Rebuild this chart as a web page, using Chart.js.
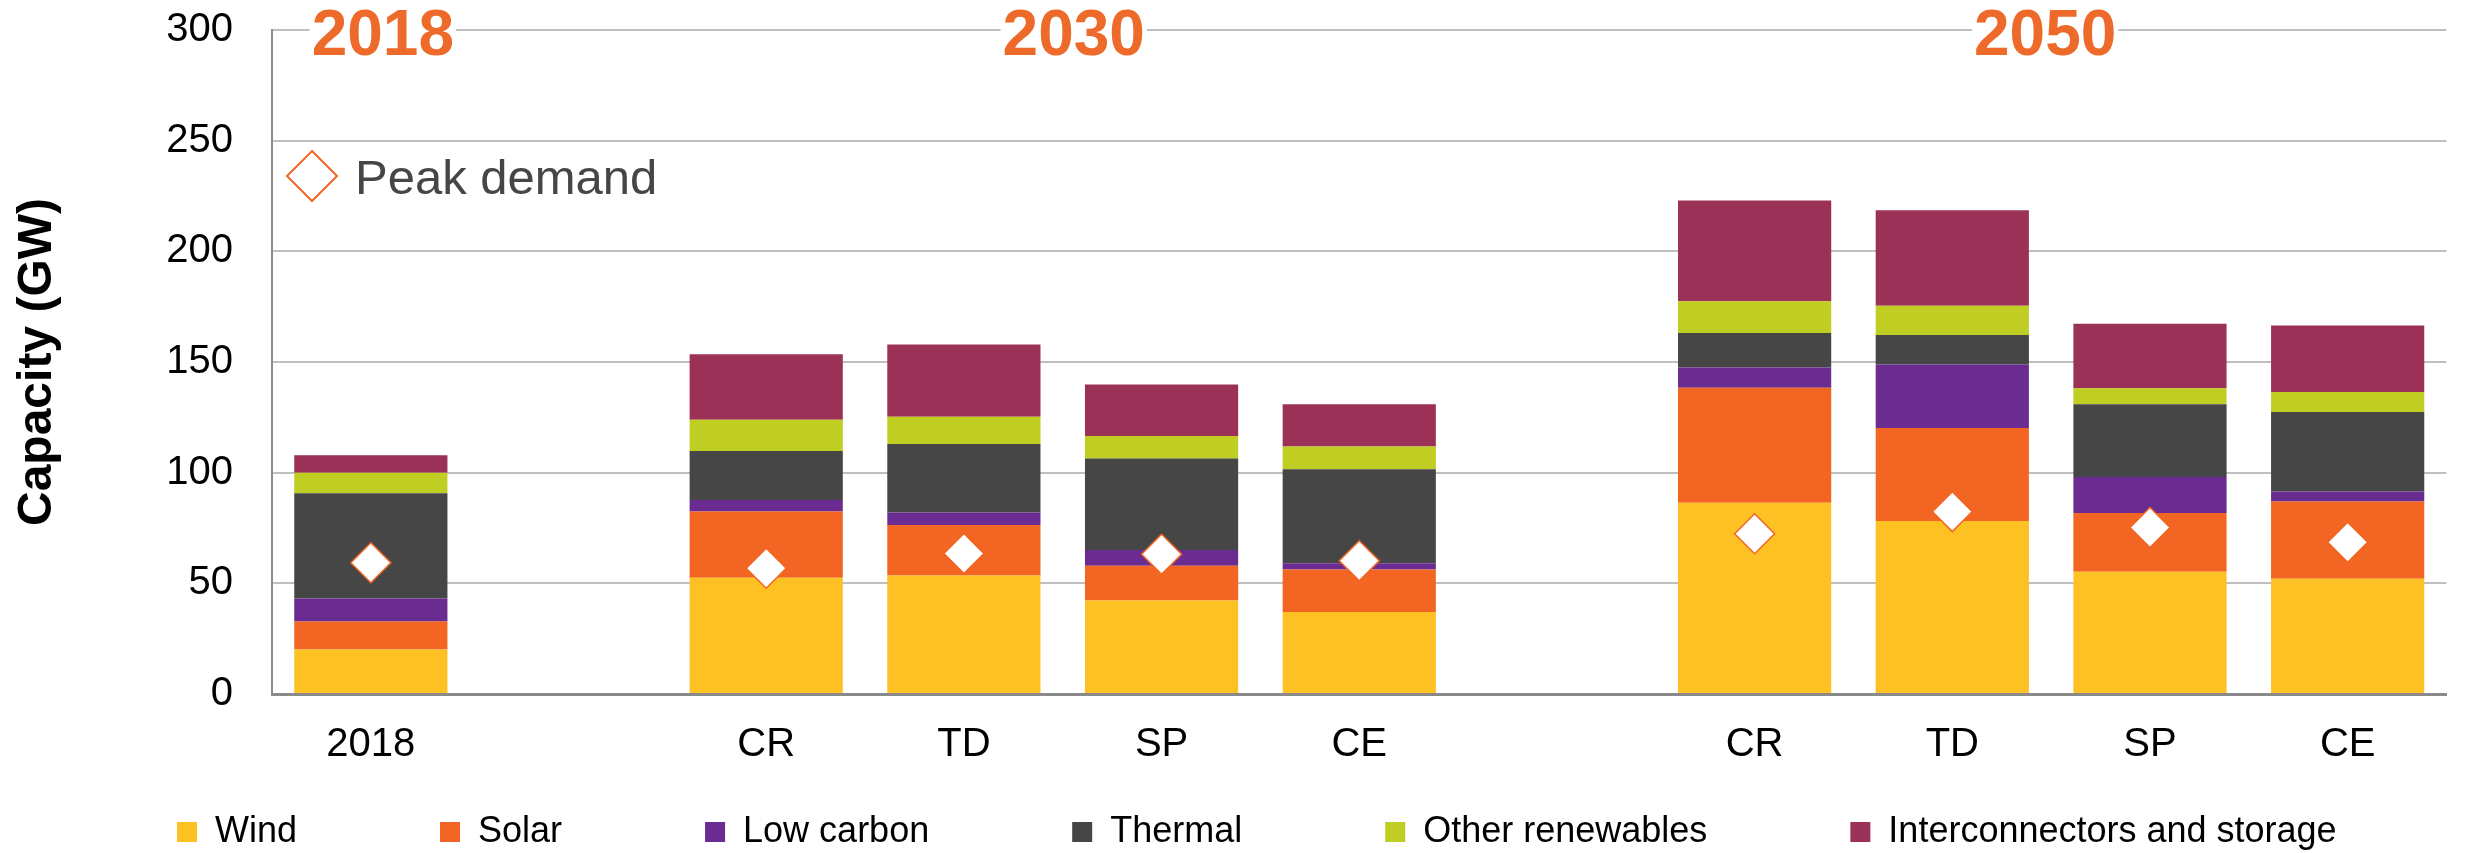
<!DOCTYPE html>
<html>
<head>
<meta charset="utf-8">
<script src="https://cdn.jsdelivr.net/npm/chart.js@4/dist/chart.umd.min.js"></script>
<style>
  html, body { margin: 0; padding: 0; background: #ffffff; }
  #wrap { width: 2468px; height: 853px; position: relative; }
</style>
</head>
<body>
<div id="wrap"><canvas id="c" width="2468" height="853"></canvas></div>
<script>
// ---- Data ----
const categories = ['2018', '', 'CR', 'TD', 'SP', 'CE', '', 'CR', 'TD', 'SP', 'CE'];
const wind       = [20.1, null, 52.5, 53.5, 42.3, 37.1, null, 86.4, 78.2, 55.2, 52.1];
const solar      = [12.7, null, 29.9, 22.8, 15.6, 19.1, null, 52.0, 42.0, 26.6, 34.9];
const lowCarbon  = [10.4, null,  5.2,  5.7,  7.2,  2.9, null,  9.1, 28.7, 16.2,  4.5];
const thermal    = [47.5, null, 22.2, 30.9, 41.3, 42.4, null, 15.6, 13.3, 32.9, 35.9];
const otherRen   = [ 9.3, null, 14.1, 12.4, 10.2, 10.3, null, 14.4, 13.2,  7.2,  9.1];
const interconn  = [ 7.9, null, 29.6, 32.6, 23.2, 19.1, null, 45.5, 43.2, 29.2, 30.0];
const peakDemand = [59.3, null, 56.8, 63.5, 63.1, 60.2, null, 72.4, 82.4, 75.2, 68.6];
const yTicks     = [0, 50, 100, 150, 200, 250, 300];
const groupTitles = ['2018', '2030', '2050'];

const FONT = "'Liberation Sans', Arial, Helvetica, sans-serif";
const ORANGE_TITLE = '#EE6A2A';
const DIAMOND_EDGE = '#F26522';

// Annotation plugin: group years, peak demand key, legend placement
const annotations = {
  id: 'annotations',
  afterLayout(chart) {
    const lg = chart.legend;
    if (!lg) return;
    const p = lg.options.labels.padding;
    lg.left = 177 - p;
    lg.right = chart.width + 600;
    lg.top = 814 - p;
    lg.bottom = chart.height;
  },
  afterDraw(chart) {
    const {ctx, chartArea, scales: {x, y}} = chart;
    ctx.save();
    // Group titles
    const groups = [
      (x.getPixelForValue(0)) + 12,
      (x.getPixelForValue(2) + x.getPixelForValue(5)) / 2 + 11,
      (x.getPixelForValue(7) + x.getPixelForValue(10)) / 2 - 6
    ];
    ctx.font = 'bold 64px ' + FONT;
    ctx.textAlign = 'center';
    ctx.textBaseline = 'alphabetic';
    const topY = y.getPixelForValue(300);
    groupTitles.forEach((t, i) => {
      const w = ctx.measureText(t).width;
      ctx.fillStyle = '#ffffff';
      ctx.fillRect(groups[i] - w / 2 - 2, topY - 6, w + 4, 12);
      ctx.fillStyle = ORANGE_TITLE;
      ctx.fillText(t, groups[i], topY + 25);
    });
    // Peak demand key
    const kx = chartArea.left + 40;
    const ky = y.getPixelForValue(234);
    const r = 25;
    ctx.beginPath();
    ctx.moveTo(kx, ky - r);
    ctx.lineTo(kx + r, ky);
    ctx.lineTo(kx, ky + r);
    ctx.lineTo(kx - r, ky);
    ctx.closePath();
    ctx.fillStyle = '#ffffff';
    ctx.fill();
    ctx.lineWidth = 2;
    ctx.strokeStyle = DIAMOND_EDGE;
    ctx.stroke();
    ctx.font = '49px ' + FONT;
    ctx.textAlign = 'left';
    ctx.fillStyle = '#464646';
    ctx.fillText('Peak demand', kx + 43, ky + 18);
    ctx.restore();
  }
};

function barSet(label, data, color) {
  return {
    type: 'bar',
    label: label,
    data: data,
    backgroundColor: color,
    borderWidth: 0,
    stack: 'cap',
    order: 1,
    barPercentage: 0.775,
    categoryPercentage: 1.0
  };
}

new Chart(document.getElementById('c'), {
  type: 'bar',
  data: {
    labels: categories,
    datasets: [
      barSet('Wind', wind, '#FDC123'),
      barSet('Solar', solar, '#F26522'),
      barSet('Low carbon', lowCarbon, '#6A2C91'),
      barSet('Thermal', thermal, '#464646'),
      barSet('Other renewables', otherRen, '#C0CD22'),
      barSet('Interconnectors and storage', interconn, '#9B3157'),
      {
        type: 'line',
        label: 'Peak demand',
        data: peakDemand,
        showLine: false,
        stack: 'pd',
        order: 0,
        pointStyle: 'rectRot',
        pointRadius: 20,
        pointHoverRadius: 20,
        pointBackgroundColor: '#ffffff',
        pointBorderColor: DIAMOND_EDGE,
        pointBorderWidth: 1.5
      }
    ]
  },
  options: {
    responsive: false,
    animation: false,
    devicePixelRatio: 1,
    layout: { padding: { left: 0, right: 10, top: 30, bottom: 0 } },
    font: { family: FONT },
    plugins: {
      tooltip: { enabled: false },
      legend: {
        position: 'bottom',
        align: 'start',
        maxHeight: 60,
        labels: {
          filter: (item) => item.text !== 'Peak demand',
          boxWidth: 20,
          boxHeight: 20,
          padding: 143,
          color: '#000000',
          font: { family: FONT, size: 36 }
        }
      }
    },
    scales: {
      x: {
        stacked: true,
        offset: true,
        grid: { display: false, drawTicks: false },
        border: { display: true, color: '#8A8A8A', width: 3 },
        ticks: {
          color: '#000000',
          font: { family: FONT, size: 40 },
          padding: 27,
          maxRotation: 0,
          autoSkip: false
        },
        afterFit: (s) => { s.height = 99; }
      },
      y: {
        stacked: true,
        min: 0,
        max: 300,
        afterBuildTicks: (s) => { s.ticks = yTicks.map(v => ({ value: v })); },
        grid: { color: '#BFBFBF', lineWidth: 2, drawTicks: true, tickLength: 36, tickColor: 'rgba(0,0,0,0)' },
        border: { display: true, color: '#8C8C8C', width: 2 },
        ticks: {
          color: '#000000',
          font: { family: FONT, size: 40 },
          padding: 3
        },
        title: {
          display: true,
          text: 'Capacity (GW)',
          color: '#000000',
          font: { family: FONT, size: 48, weight: 'bold' },
          padding: { top: 9, bottom: 0 }
        },
        afterFit: (s) => { s.width = 272; }
      }
    }
  },
  plugins: [annotations]
});
</script>
</body>
</html>
